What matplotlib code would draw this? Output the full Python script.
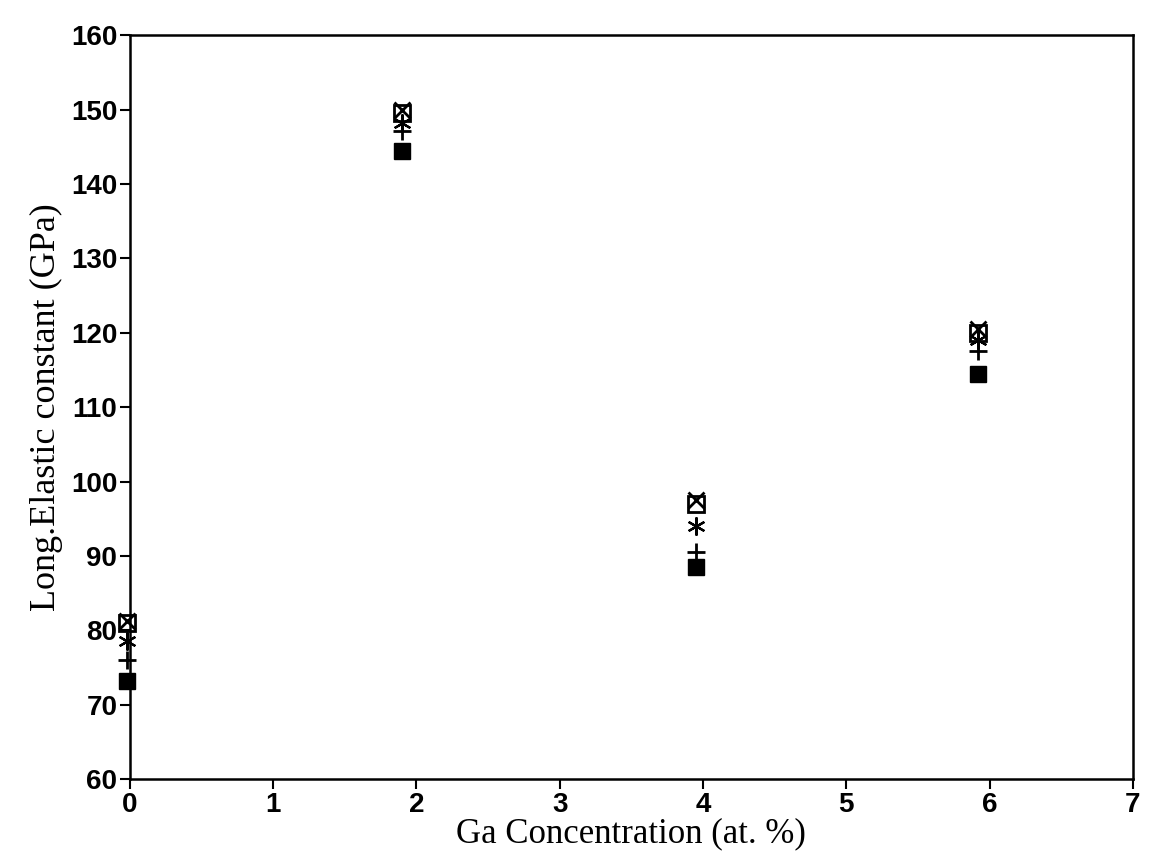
import matplotlib
matplotlib.use("Agg")
import matplotlib.pyplot as plt

ga = [-0.02, 1.9, 3.95, 5.92]
open_square = [81.0, 149.5, 97.0, 120.0]
cross_x = [81.2, 150.0, 97.5, 120.5]
asterisk = [78.6, 148.2, 94.0, 119.0]
plus = [76.0, 147.2, 90.5, 117.5]
filled_square = [73.2, 144.5, 88.5, 114.5]

fig = plt.figure(figsize=(11.49, 8.61), dpi=100)
ax = fig.add_axes([0.113, 0.095, 0.873, 0.864])

kw = dict(linestyle='none', color='black', clip_on=False)
ax.plot(ga, filled_square, marker='s', ms=12, **kw)
ax.plot(ga, plus, marker='+', ms=13, mew=2, **kw)
ax.plot(ga, asterisk, marker=(6, 2, 0), ms=13, mew=1.6, **kw)
ax.plot(ga, open_square, marker='s', ms=11, mfc='none', mew=2, **kw)
ax.plot(ga, cross_x, marker='x', ms=11, mew=2, **kw)

ax.set_xlim(0, 7)
ax.set_ylim(60, 160)
ax.set_xticks(range(0, 8))
ax.set_yticks(range(60, 161, 10))
ax.tick_params(direction='out', length=7, width=1.5, labelsize=20, pad=2)
for lab in ax.get_xticklabels() + ax.get_yticklabels():
    lab.set_family('Liberation Sans')
    lab.set_weight('bold')
for s in ax.spines.values():
    s.set_linewidth(1.8)

ax.set_xlabel('Ga Concentration (at. %)', family='Liberation Serif', fontsize=25, labelpad=0)
ax.set_ylabel('Long.Elastic constant (GPa)', family='Liberation Serif', fontsize=26, labelpad=6)

fig.savefig('out.png', dpi=100)
